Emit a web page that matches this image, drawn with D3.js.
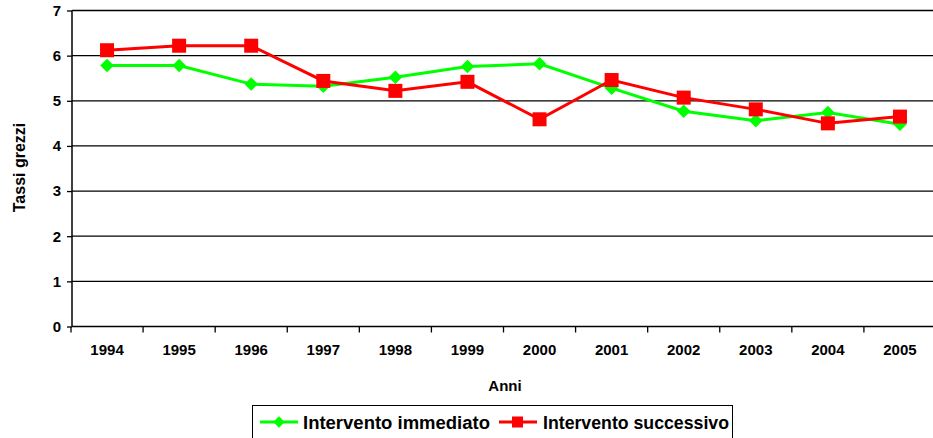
<!DOCTYPE html>
<html><head><meta charset="utf-8">
<script src="https://cdn.jsdelivr.net/npm/d3@7"></script>
<style>body{margin:0;background:#fff}svg{display:block}text{font-family:"Liberation Sans",Arial,sans-serif;font-weight:bold;fill:#000}</style>
</head><body><svg id="c" width="933" height="438"></svg>
<script>
const years = ["1994","1995","1996","1997","1998","1999","2000","2001","2002","2003","2004","2005"];
const immediato = [5.78,5.78,5.37,5.32,5.52,5.76,5.82,5.28,4.77,4.56,4.74,4.48];
const successivo = [6.12,6.22,6.22,5.44,5.22,5.42,4.59,5.46,5.07,4.81,4.50,4.65];
const yTicks = [0,1,2,3,4,5,6,7];
const seriesNames = ["Intervento immediato","Intervento successivo"];

const svg = d3.select("#c");
const x = d3.scaleBand().domain(years).range([71, 936]);
const y = d3.scaleLinear().domain([0,7]).range([326.5, 10.5]);

// gridlines
svg.append("g").selectAll("line").data(yTicks.filter(d=>d>0)).join("line")
  .attr("x1",72).attr("x2",933).attr("y1",d=>y(d)).attr("y2",d=>y(d))
  .attr("stroke","#000").attr("stroke-width",1.3);

// y axis
const ya = svg.append("g").attr("transform","translate(72,0)")
  .call(d3.axisLeft(y).tickValues(yTicks).tickSize(5).tickPadding(6).tickFormat(d3.format("d")));
ya.select(".domain").attr("stroke","#000").attr("stroke-width",1.5).attr("d","M0,"+y(7)+"V"+y(0));
ya.selectAll("text").style("font-size","15px").style("font-family","Liberation Sans, Arial").style("font-weight","bold");
ya.selectAll(".tick line").attr("stroke-width",1.3);

// x axis
const xa = svg.append("g").attr("transform","translate(0,"+y(0)+")")
  .call(d3.axisBottom(x).tickSize(0).tickPadding(18));
xa.select(".domain").attr("stroke","#000").attr("stroke-width",1.5).attr("d","M72,0H933");
xa.selectAll("text").style("font-size","15px").style("font-family","Liberation Sans, Arial").style("font-weight","bold");
svg.append("g").selectAll("line").data(years).join("line")
  .attr("x1",d=>x(d)).attr("x2",d=>x(d)).attr("y1",y(0)).attr("y2",y(0)+6)
  .attr("stroke","#000").attr("stroke-width",1.3);

// titles
svg.append("text").attr("x",505).attr("y",391).attr("text-anchor","middle").style("font-size","15px").text("Anni");
svg.append("text").attr("transform","translate(25,167.5) rotate(-90)").attr("text-anchor","middle").style("font-size","16px").text("Tassi grezzi");

const line = d3.line().x((d,i)=>x(years[i])+x.bandwidth()/2).y(d=>y(d));
const cx = i => x(years[i])+x.bandwidth()/2;

svg.append("path").datum(immediato).attr("d",line).attr("fill","none").attr("stroke","#00ff00").attr("stroke-width",3);
svg.append("path").datum(successivo).attr("d",line).attr("fill","none").attr("stroke","#ff0000").attr("stroke-width",3);

svg.append("g").selectAll("path").data(immediato).join("path")
  .attr("d", d3.symbol().type(d3.symbolSquare).size(92))
  .attr("transform",(d,i)=>"translate("+cx(i)+","+y(d)+") rotate(45)")
  .attr("fill","#00ff00");
svg.append("g").selectAll("rect").data(successivo).join("rect")
  .attr("x",(d,i)=>cx(i)-7).attr("y",d=>y(d)-7).attr("width",14).attr("height",14)
  .attr("fill","#ff0000");

// legend
const lg = svg.append("g");
lg.append("rect").attr("x",252.5).attr("y",405.5).attr("width",480).attr("height",34).attr("fill","#fff").attr("stroke","#000").attr("stroke-width",1);
const items = [{name:seriesNames[0],c:"#00ff00",x0:260,tx:303,w:187,shape:"d"},{name:seriesNames[1],c:"#ff0000",x0:499,tx:543,w:186,shape:"s"}];
items.forEach(it=>{
  lg.append("line").attr("x1",it.x0).attr("x2",it.x0+38).attr("y1",422).attr("y2",422).attr("stroke",it.c).attr("stroke-width",3);
  if(it.shape==="d") lg.append("path").attr("d",d3.symbol().type(d3.symbolSquare).size(64)).attr("transform","translate("+(it.x0+19)+",422) rotate(45)").attr("fill",it.c);
  else lg.append("rect").attr("x",it.x0+13).attr("y",416.5).attr("width",11).attr("height",11).attr("fill",it.c);
  lg.append("text").attr("x",it.tx).attr("y",428.5).style("font-size","18px")
    .attr("textLength",it.w).attr("lengthAdjust","spacingAndGlyphs").text(it.name);
});
</script></body></html>
